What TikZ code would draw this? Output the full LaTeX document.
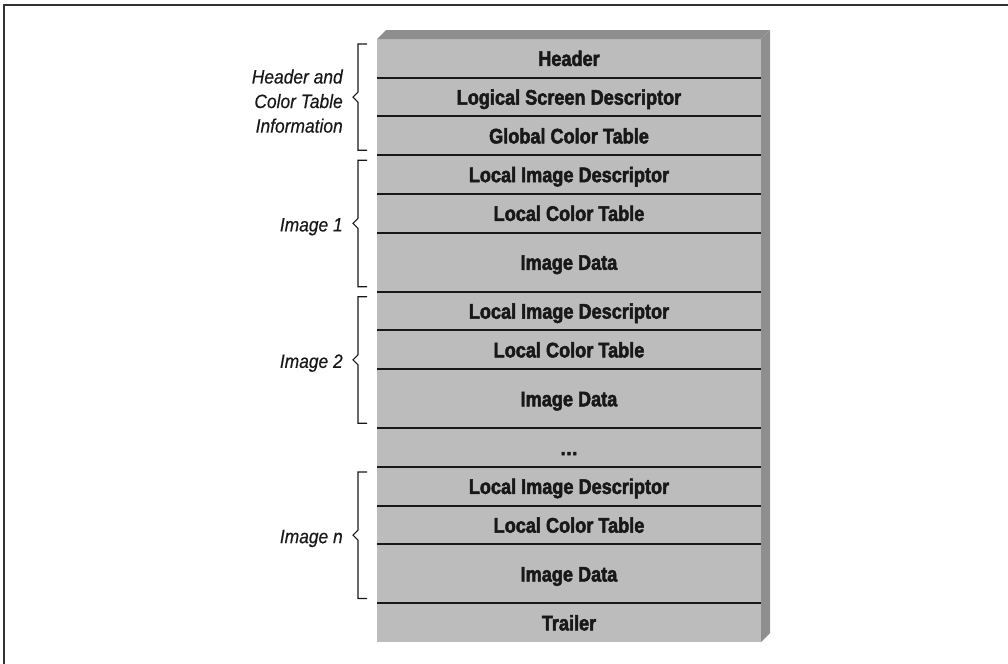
\documentclass[tikz,border=0pt]{standalone}
\usepackage{fontspec}
\setmainfont{Liberation Sans}
% heavy condensed face for the block names, narrower italic for the group notes
\newfontfamily\blockfont[FakeStretch=0.86,FakeBold=2.3]{Liberation Sans}
\newfontfamily\notefont[FakeStretch=0.9,FakeBold=0.4]{Liberation Sans}
\usetikzlibrary{positioning,calc}
\definecolor{faceGray}{RGB}{188,188,188}
\definecolor{depthGray}{RGB}{142,142,142}
\definecolor{inkBlack}{RGB}{24,24,24}
\definecolor{rule}{RGB}{50,50,50}

\begin{document}
\begin{tikzpicture}[x=0.75pt,y=-0.75pt,
  field/.style={rectangle, inner sep=0pt, outer sep=0pt, fill=faceGray,
    minimum width=288pt, minimum height=29.06pt,
    text height=11.3pt, text depth=0pt, text=inkBlack,
    font=\blockfont\bfseries\fontsize{15.8}{18}\selectfont},
  tall/.style={minimum height=44.25pt},
  divider/.style={inkBlack, line width=1.5pt},
  depth/.style={fill=depthGray},
  bracket/.style={inkBlack, line width=0.8pt, line join=miter},
  note/.style={inner sep=0pt, text=inkBlack, align=right,
    font=\notefont\itshape\fontsize{14.5}{18.4}\selectfont},
  onenote/.style={note, text height=10.4pt, text depth=0pt},
  frame/.style={rule, line width=1.6pt}]
\useasboundingbox (0,0) rectangle (1008,664);

% page frame
\draw[frame] (4,664) -- (4,5) -- (1008,5);

% the GIF file layout, one block per field
\node[field, anchor=north] (r1) at (569,39) {Header};
\node[field, below=0pt of r1] (r2) {Logical Screen Descriptor};
\node[field, below=0pt of r2] (r3) {Global Color Table};
\node[field, below=0pt of r3] (r4) {Local Image Descriptor};
\node[field, below=0pt of r4] (r5) {Local Color Table};
\node[field, tall, below=0pt of r5] (r6) {Image Data};
\node[field, below=0pt of r6] (r7) {Local Image Descriptor};
\node[field, below=0pt of r7] (r8) {Local Color Table};
\node[field, tall, below=0pt of r8] (r9) {Image Data};
\node[field, below=0pt of r9] (r10) {\dots};
\node[field, below=0pt of r10] (r11) {Local Image Descriptor};
\node[field, below=0pt of r11] (r12) {Local Color Table};
\node[field, tall, below=0pt of r12] (r13) {Image Data};
\node[field, below=0pt of r13] (r14) {Trailer};

% rules between the blocks
\foreach \i in {1,...,13}
  \draw[divider] (r\i.south west) -- (r\i.south east);

% top and side faces of the stack
\draw[depth, draw=none] (r1.north west) -- ([shift={(9,-9)}]r1.north west)
  -- ([shift={(9,-9)}]r1.north east) -- (r1.north east) -- cycle;
\draw[depth, draw=none] (r1.north east) -- ([shift={(9,-9)}]r1.north east)
  -- ([shift={(9,-9)}]r14.south east) -- (r14.south east) -- cycle;

% brackets grouping the blocks
\foreach \top/\bot/\nm in {r1/r3/g, r4/r6/one, r7/r9/two, r11/r13/en} {
  \coordinate (\nm-a) at ([shift={(-10,5)}]\top.north west);
  \coordinate (\nm-b) at ([shift={(-10,-5)}]\bot.south west);
  \coordinate (\nm-m) at ($(\nm-a)!0.5!(\nm-b)$);
  \coordinate (\nm-tip) at ($(\nm-m)+(-14,0)$);
  \draw[bracket] (\nm-a) -- ++(-9,0) -- ($(\nm-m)+(-9,-5)$) -- (\nm-tip)
    -- ($(\nm-m)+(-9,5)$) -- ($(\nm-b)+(-9,0)$) -- (\nm-b);
}

% group notes
\node[note, anchor=east] (gnote) at ([shift={(-10,4)}]g-tip)
  {Header and\\Color Table\\Information};
\node[onenote, anchor=east] (onenote) at ([shift={(-10,1)}]one-tip) {Image 1};
\node[onenote, anchor=east] (twonote) at ([shift={(-10,1)}]two-tip) {Image 2};
\node[onenote, anchor=east] (ennote) at ([shift={(-10,1)}]en-tip) {Image \textit{n}};
\end{tikzpicture}
\end{document}
